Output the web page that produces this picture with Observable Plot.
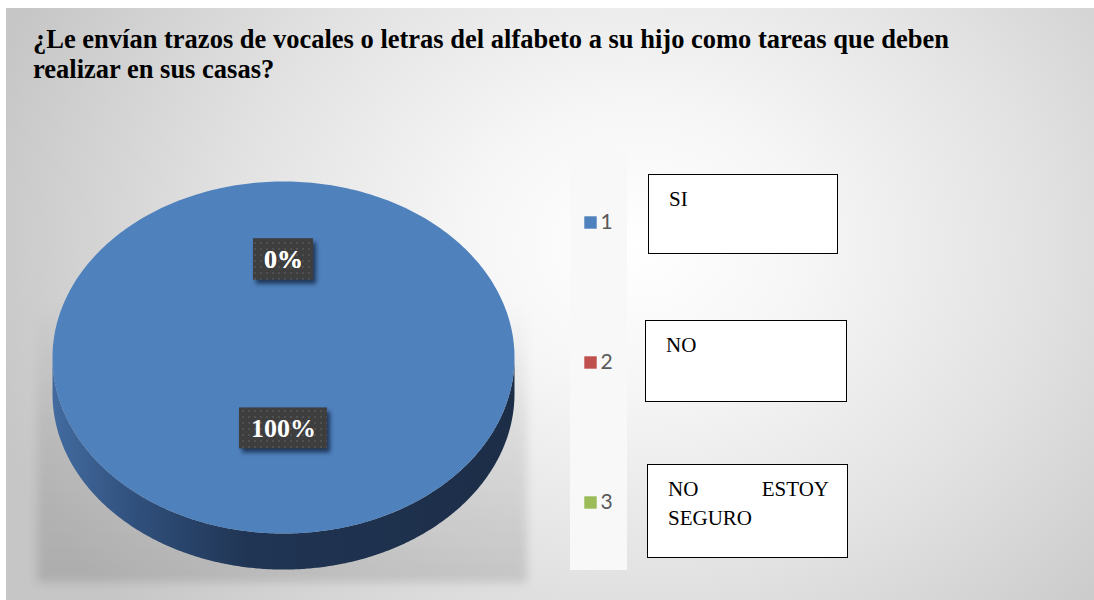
<!DOCTYPE html>
<html><head><meta charset="utf-8">
<script src="https://cdn.jsdelivr.net/npm/d3@7"></script>
<script src="https://cdn.jsdelivr.net/npm/@observablehq/plot@0.6"></script>
<style>
body{margin:0;background:#fff;}
#wrap{position:relative;width:1094px;height:600px;overflow:hidden;background:#fff;}
#panel{position:absolute;left:6px;top:8px;width:1088px;height:592px;
  background:radial-gradient(ellipse 62% 95% at 58% 40%, #ffffff 0%, #f6f6f6 25%, #e2e2e2 60%, #c6c6c6 100%);}
#title{position:absolute;left:33px;top:24px;font:bold 26.5px "Liberation Serif";line-height:30px;color:#000;white-space:nowrap;}
.box{position:absolute;box-sizing:border-box;background:#fff;border:1.5px solid #000;font:21px "Liberation Serif";line-height:29px;padding:10px 18px 0 20px;color:#000;text-align:justify;}
#pie{position:absolute;left:0;top:0;}
#legend{position:absolute;left:570px;top:150px;}
</style></head>
<body><div id="wrap"><div id="panel"></div>
<div id="title"></div>
<div id="pie"></div><div id="legend"></div>
</div>
<script>
// ---- data ----
const titleLines = ["¿Le envían trazos de vocales o letras del alfabeto a su hijo como tareas que deben", "realizar en sus casas?"];
const categories = ["1", "2", "3"];
const answers = ["SI", "NO", "NO ESTOY SEGURO"];
const values = [100, 0, 0];
const colors = ["#4f81bd", "#c0504d", "#9bbb59"];

// ---- layout constants ----
const xRange = [52, 514], yRange = [533, 181];
const depth = 0.205;          // side height in y-units
const labelRadius = 0.48, labelLift = 0.077;
const kx = (xRange[1] - xRange[0]) / 2, ky = (yRange[0] - yRange[1]) / 2;

const rows = categories.map((c, i) => ({category: c, value: values[i], answer: answers[i]}));
const total = d3.sum(values);
const arcs = d3.pie().sort(null).value(d => d.value)(rows);

const N = 360;
const slicePts = [];
arcs.forEach(a => {
  const cat = a.data.category;
  const n = Math.max(1, Math.ceil((a.endAngle - a.startAngle) / (2 * Math.PI) * N));
  slicePts.push({cat, x: 0, y: 0});
  for (let i = 0; i <= n; i++) {
    const t = a.startAngle + (a.endAngle - a.startAngle) * i / n;
    slicePts.push({cat, x: Math.sin(t), y: Math.cos(t)});
  }
});
const sidePts = [];
arcs.forEach(a => {
  const s = Math.max(a.startAngle, Math.PI / 2), e = Math.min(a.endAngle, 3 * Math.PI / 2);
  if (e <= s) return;
  const cat = a.data.category;
  const n = Math.max(2, Math.ceil((e - s) / Math.PI * N));
  for (let i = 0; i <= n; i++) { const t = s + (e - s) * i / n; sidePts.push({cat, x: Math.sin(t), y: Math.cos(t)}); }
  for (let i = n; i >= 0; i--) { const t = s + (e - s) * i / n; sidePts.push({cat, x: Math.sin(t), y: Math.cos(t) - depth}); }
});
const labels = arcs.map(a => {
  const m = (a.startAngle + a.endAngle) / 2;
  const text = Math.round(a.data.value / total * 100) + "%";
  const w = 14 * text.length + 32, h = 41;
  const x = labelRadius * Math.sin(m), y = labelRadius * Math.cos(m) + labelLift;
  return {text, x, y, x1: x - w / 2 / kx, x2: x + w / 2 / kx, y1: y - h / 2 / ky, y2: y + h / 2 / ky};
});
const shadow = [{x1: -1.065, x2: 1.056, y1: -1.28, y2: 0.32}];

// ---- title ----
const tEl = document.getElementById("title");
titleLines.forEach((l, i) => { if (i) tEl.appendChild(document.createElement("br")); tEl.appendChild(document.createTextNode(l)); });

// ---- pie ----
const pie = Plot.plot({
  width: 560, height: 600, margin: 0,
  x: {domain: [-1, 1], range: xRange, axis: null},
  y: {domain: [-1, 1], range: yRange, axis: null},
  color: {domain: categories, range: colors},
  style: {background: "transparent", overflow: "visible"},
  marks: [
    Plot.rect(shadow, {x1: "x1", x2: "x2", y1: "y1", y2: "y2", fill: "url(#shadowGrad)"}),
    Plot.line(sidePts, {x: "x", y: "y", z: "cat", fill: "url(#sideGrad)", stroke: "none", curve: "linear-closed"}),
    Plot.line(slicePts, {x: "x", y: "y", z: "cat", fill: "cat", stroke: "none", curve: "linear-closed"}),
    Plot.rect(labels, {x1: "x1", x2: "x2", y1: "y1", y2: "y2", fill: "url(#dots)"}),
    Plot.text(labels, {x: "x", y: "y", text: "text", fill: "white", fontSize: 26, fontWeight: "bold", fontFamily: "Liberation Serif"})
  ]
});
const defs = d3.select(pie).insert("defs", ":first-child");
const sg = defs.append("linearGradient").attr("id", "sideGrad").attr("x1", 0).attr("x2", 1).attr("y1", 0).attr("y2", 0);
[[0, "#436ba0"], [0.18, "#30507c"], [0.42, "#203554"], [1, "#1c2d47"]].forEach(([o, c]) => sg.append("stop").attr("offset", o).attr("stop-color", c));
const shg = defs.append("linearGradient").attr("id", "shadowGrad").attr("x1", 0).attr("x2", 0).attr("y1", 0).attr("y2", 1);
[[0, "rgba(0,0,0,0.0)"], [0.45, "rgba(0,0,0,0.08)"], [1, "rgba(0,0,0,0.12)"]].forEach(([o, c]) => shg.append("stop").attr("offset", o).attr("stop-color", c));
const pat = defs.append("pattern").attr("id", "dots").attr("width", 6).attr("height", 6).attr("patternUnits", "userSpaceOnUse");
pat.append("rect").attr("width", 6).attr("height", 6).attr("fill", "#3e3e3e");
pat.append("circle").attr("cx", 3).attr("cy", 3).attr("r", 0.9).attr("fill", "#585858");
// mark groups in order: shadow, side, top, label boxes, label text
const groups = Array.from(pie.children).filter(n => n.tagName.toLowerCase() === "g");
if (groups[0]) groups[0].style.filter = "blur(5px)";
if (groups[3]) groups[3].style.filter = "drop-shadow(3px 4px 2px rgba(15,30,55,0.75))";
document.getElementById("pie").appendChild(pie);

// ---- legend ----
const legend = Plot.plot({
  width: 57, height: 420, margin: 0,
  y: {type: "point", domain: categories, range: [71, 352], padding: 0, axis: null},
  color: {domain: categories, range: colors},
  style: {background: "#f8f8f8"},
  marks: [
    Plot.dot(categories, {y: d => d, fill: d => d, symbol: "square", r: 7, frameAnchor: "left", dx: 20}),
    Plot.text(categories, {y: d => d, text: d => d, frameAnchor: "left", dx: 30, textAnchor: "start", fill: "#595959", fontSize: 21, fontFamily: "Lato"})
  ]
});
document.getElementById("legend").appendChild(legend);

// ---- answer text boxes ----
const boxes = [{left: 648, top: 174, width: 190, height: 80}, {left: 645, top: 320, width: 202, height: 82}, {left: 647, top: 464, width: 201, height: 94}];
answers.forEach((t, i) => {
  const d = document.createElement("div");
  d.className = "box";
  Object.assign(d.style, {left: boxes[i].left + "px", top: boxes[i].top + "px", width: boxes[i].width + "px", height: boxes[i].height + "px"});
  d.textContent = t;
  document.getElementById("wrap").appendChild(d);
});
</script></body></html>
